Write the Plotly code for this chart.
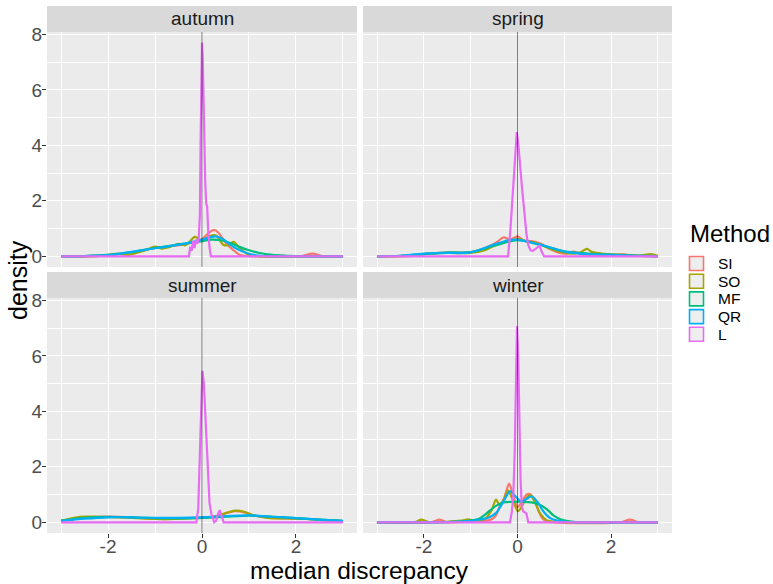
import plotly.graph_objects as go

# ---- data: kernel density curves of the median discrepancy, per season and method ----
SEASONS = ["autumn", "spring", "summer", "winter"]
METHODS = ["SI", "SO", "MF", "QR", "L"]
COLORS = ["#F8766D", "#A3A500", "#00BF7D", "#00B0F6", "#E76BF3"]

# autumn
AUT_SI_X = [-3, -2.4, -2.0, -1.6, -1.3, -1.0, -0.8, -0.6, -0.4, -0.2, 0.0, 0.15, 0.25, 0.35, 0.5, 0.65, 0.8, 1.0, 1.3, 2.1, 2.35, 2.6, 3]
AUT_SI_Y = [0, 0.01, 0.04, 0.12, 0.2, 0.3, 0.32, 0.38, 0.42, 0.5, 0.62, 0.85, 0.95, 0.85, 0.5, 0.25, 0.06, 0.01, 0, 0, 0.1, 0, 0]
AUT_SO_X = [-3, -2.3, -2.0, -1.8, -1.6, -1.4, -1.2, -1.0, -0.85, -0.7, -0.5, -0.35, -0.15, 0.0, 0.15, 0.3, 0.45, 0.55, 0.67, 0.8, 1.0, 1.2, 3]
AUT_SO_Y = [0, 0, 0.05, 0.1, 0.05, 0.12, 0.22, 0.35, 0.28, 0.33, 0.45, 0.4, 0.7, 0.55, 0.72, 0.75, 0.42, 0.4, 0.52, 0.3, 0.05, 0, 0]
AUT_MF_X = [-3, -2.5, -2.0, -1.5, -1.0, -0.5, -0.25, 0.0, 0.2, 0.4, 0.6, 0.8, 1.0, 1.2, 1.5, 1.8, 2.2, 3]
AUT_MF_Y = [0, 0.01, 0.05, 0.15, 0.3, 0.42, 0.48, 0.55, 0.6, 0.58, 0.48, 0.34, 0.22, 0.13, 0.05, 0.02, 0, 0]
AUT_QR_X = [-3, -2.5, -2.0, -1.5, -1.0, -0.75, -0.5, -0.25, 0.0, 0.15, 0.3, 0.45, 0.6, 0.75, 0.95, 1.2, 1.5, 3]
AUT_QR_Y = [0, 0.01, 0.04, 0.16, 0.29, 0.35, 0.42, 0.5, 0.6, 0.68, 0.72, 0.62, 0.42, 0.26, 0.12, 0.03, 0, 0]
AUT_L_X = [-3, -0.28, -0.25, -0.22, -0.19, -0.16, -0.13, -0.1, -0.07, -0.045, -0.03, -0.015, 0.0, 0.015, 0.03, 0.05, 0.07, 0.09, 0.11, 0.13, 0.16, 0.19, 3]
AUT_L_Y = [0, 0, 0.35, 0.2, 0.55, 0.3, 0.6, 0.45, 0.65, 1.5, 4.0, 6.8, 7.7, 7.2, 5.6, 4.0, 2.6, 1.9, 1.8, 1.0, 0.3, 0, 0]

# spring
SPR_SI_X = [-3, -2.2, -2.0, -1.5, -1.0, -0.7, -0.45, -0.3, -0.15, 0.0, 0.15, 0.3, 0.5, 0.7, 0.9, 1.05, 1.2, 1.35, 1.6, 2.0, 2.25, 2.5, 3]
SPR_SI_Y = [0, 0.02, 0.08, 0.13, 0.15, 0.3, 0.5, 0.68, 0.6, 0.72, 0.55, 0.55, 0.45, 0.25, 0.12, 0.1, 0.17, 0.08, 0.05, 0.04, 0.07, 0.02, 0]
SPR_SO_X = [-3, -2.2, -2.0, -1.5, -1.0, -0.7, -0.4, -0.2, 0.0, 0.2, 0.4, 0.6, 0.8, 1.0, 1.2, 1.35, 1.48, 1.6, 1.8, 2.2, 2.6, 2.85, 3.0]
SPR_SO_Y = [0, 0.02, 0.08, 0.12, 0.12, 0.22, 0.45, 0.55, 0.62, 0.55, 0.48, 0.35, 0.22, 0.13, 0.1, 0.15, 0.27, 0.15, 0.1, 0.06, 0.03, 0.08, 0.02]
SPR_MF_X = [-3, -2.5, -2.0, -1.5, -1.0, -0.5, 0.0, 0.5, 1.0, 1.5, 2.0, 2.5, 3]
SPR_MF_Y = [0, 0.02, 0.08, 0.14, 0.15, 0.38, 0.58, 0.4, 0.18, 0.1, 0.06, 0.03, 0.01]
SPR_QR_X = [-3, -2.5, -2.0, -1.5, -1.0, -0.5, -0.2, 0.0, 0.3, 0.6, 1.0, 1.5, 2.0, 2.5, 3]
SPR_QR_Y = [0, 0.02, 0.1, 0.12, 0.14, 0.42, 0.58, 0.6, 0.5, 0.37, 0.17, 0.08, 0.05, 0.02, 0]
SPR_L_X = [-3, -0.2, -0.15, -0.1, -0.05, -0.015, 0.02, 0.06, 0.1, 0.15, 0.19, 0.23, 0.28, 0.33, 0.4, 0.47, 0.52, 0.57, 3]
SPR_L_Y = [0, 0, 1.0, 2.3, 3.5, 4.48, 4.0, 3.1, 2.4, 1.55, 0.82, 0.4, 0.22, 0.2, 0.3, 0.38, 0.15, 0, 0]

# summer
SUM_SI_X = [-3, -2.6, -2.2, -1.8, -1.4, -1.0, -0.6, -0.3, 0.0, 0.3, 0.5, 0.7, 0.9, 1.1, 1.4, 1.8, 2.2, 2.6, 3]
SUM_SI_Y = [0.05, 0.15, 0.2, 0.2, 0.17, 0.12, 0.12, 0.15, 0.17, 0.22, 0.32, 0.4, 0.36, 0.25, 0.17, 0.14, 0.12, 0.08, 0.04]
SUM_SO_X = [-3, -2.6, -2.2, -1.8, -1.4, -1.0, -0.6, -0.3, 0.0, 0.3, 0.5, 0.7, 0.9, 1.1, 1.4, 1.8, 2.2, 2.6, 3]
SUM_SO_Y = [0.05, 0.2, 0.2, 0.18, 0.15, 0.12, 0.12, 0.15, 0.16, 0.22, 0.33, 0.42, 0.38, 0.25, 0.16, 0.14, 0.12, 0.08, 0.04]
SUM_MF_X = [-3, -2.5, -2.0, -1.5, -1.0, -0.5, 0.0, 0.5, 1.0, 1.5, 2.0, 2.5, 3]
SUM_MF_Y = [0.06, 0.16, 0.2, 0.18, 0.15, 0.14, 0.16, 0.2, 0.24, 0.2, 0.15, 0.1, 0.05]
SUM_QR_X = [-3, -2.5, -2.0, -1.5, -1.0, -0.5, 0.0, 0.5, 1.0, 1.5, 2.0, 2.5, 3]
SUM_QR_Y = [0.05, 0.13, 0.18, 0.18, 0.16, 0.16, 0.18, 0.22, 0.25, 0.2, 0.15, 0.1, 0.05]
SUM_L_X = [-3, -0.12, -0.08, -0.05, -0.02, 0.008, 0.04, 0.08, 0.12, 0.16, 0.2, 0.26, 0.3, 0.34, 0.38, 0.42, 0.46, 3]
SUM_L_Y = [0, 0, 0.5, 2.2, 4.5, 5.46, 5.0, 3.6, 1.8, 0.7, 0.3, 0, 0.05, 0.3, 0.44, 0.2, 0, 0]

# winter
WIN_SI_X = [-3, -1.85, -1.66, -1.5, -1.2, -0.9, -0.6, -0.48, -0.38, -0.28, -0.18, -0.1, 0.0, 0.1, 0.18, 0.26, 0.35, 0.43, 0.51, 0.6, 0.8, 2.2, 2.4, 2.6, 3]
WIN_SI_Y = [0, 0, 0.1, 0, 0.02, 0.03, 0.08, 0.2, 0.56, 0.9, 1.4, 1.0, 0.55, 0.75, 0.98, 1.02, 0.85, 0.5, 0.2, 0.05, 0, 0, 0.1, 0, 0]
WIN_SO_X = [-3, -2.2, -2.05, -1.9, -1.5, -1.2, -1.05, -0.9, -0.7, -0.55, -0.46, -0.38, -0.28, -0.2, -0.1, 0.01, 0.1, 0.19, 0.27, 0.38, 0.48, 0.62, 0.8, 1.0, 3]
WIN_SO_Y = [0, 0, 0.1, 0.01, 0.02, 0.06, 0.11, 0.06, 0.12, 0.45, 0.82, 0.62, 0.85, 1.15, 0.8, 0.4, 0.6, 0.88, 0.98, 0.7, 0.32, 0.08, 0.02, 0, 0]
WIN_MF_X = [-3, -1.5, -1.2, -1.0, -0.8, -0.66, -0.55, -0.45, -0.3, -0.1, 0.1, 0.3, 0.45, 0.55, 0.66, 0.76, 0.87, 0.97, 1.2, 3]
WIN_MF_Y = [0, 0.01, 0.03, 0.06, 0.15, 0.32, 0.48, 0.6, 0.72, 0.74, 0.74, 0.72, 0.65, 0.56, 0.42, 0.26, 0.15, 0.08, 0.02, 0]
WIN_QR_X = [-3, -1.5, -1.2, -1.0, -0.8, -0.6, -0.45, -0.3, -0.16, -0.05, 0.08, 0.2, 0.3, 0.42, 0.55, 0.7, 0.85, 1.0, 1.2, 3]
WIN_QR_Y = [0, 0.01, 0.03, 0.05, 0.1, 0.18, 0.35, 0.75, 1.12, 0.95, 0.75, 0.85, 0.94, 0.75, 0.4, 0.15, 0.06, 0.02, 0, 0]
WIN_L_X = [-3, -0.16, -0.12, -0.09, -0.06, -0.035, -0.01, 0.015, 0.04, 0.065, 0.09, 0.12, 0.19, 0.23, 3]
WIN_L_Y = [0, 0, 0.4, 0.95, 2.5, 5.0, 7.07, 6.0, 3.6, 1.6, 0.6, 0.4, 0.32, 0, 0]

CURVES = {
    "autumn": [(AUT_SI_X, AUT_SI_Y), (AUT_SO_X, AUT_SO_Y), (AUT_MF_X, AUT_MF_Y), (AUT_QR_X, AUT_QR_Y), (AUT_L_X, AUT_L_Y)],
    "spring": [(SPR_SI_X, SPR_SI_Y), (SPR_SO_X, SPR_SO_Y), (SPR_MF_X, SPR_MF_Y), (SPR_QR_X, SPR_QR_Y), (SPR_L_X, SPR_L_Y)],
    "summer": [(SUM_SI_X, SUM_SI_Y), (SUM_SO_X, SUM_SO_Y), (SUM_MF_X, SUM_MF_Y), (SUM_QR_X, SUM_QR_Y), (SUM_L_X, SUM_L_Y)],
    "winter": [(WIN_SI_X, WIN_SI_Y), (WIN_SO_X, WIN_SO_Y), (WIN_MF_X, WIN_MF_Y), (WIN_QR_X, WIN_QR_Y), (WIN_L_X, WIN_L_Y)],
}

X_MAJOR = [-2, 0, 2]
X_MINOR = [-3, -1, 1, 3]
Y_MAJOR = [0, 2, 4, 6, 8]
Y_MINOR = [1, 3, 5, 7]

W, H = 773, 584
FONT = "Liberation Sans, Arial, sans-serif"


def px(x):
    return x / W


def py(y):
    return 1 - y / H


# panel geometry in pixels: (left, right, top, bottom)
PANELS = {
    "autumn": (47, 357, 32, 267),
    "spring": (363, 672, 32, 267),
    "summer": (47, 357, 298, 533),
    "winter": (363, 672, 298, 533),
}
STRIP_H = 26

fig = go.Figure()
layout = dict(
    template="none",
    width=W, height=H,
    margin=dict(l=0, r=0, t=0, b=0, pad=0),
    paper_bgcolor="white", plot_bgcolor="#EBEBEB",
    showlegend=False,
    font=dict(family=FONT, color="#4D4D4D"),
)
shapes = []
annotations = []

for i, season in enumerate(SEASONS):
    n = i + 1
    xa = "x" if n == 1 else f"x{n}"
    ya = "y" if n == 1 else f"y{n}"
    left, right, top, bottom = PANELS[season]
    bottom_row = season in ("summer", "winter")
    left_col = season in ("autumn", "summer")

    for m, (cx, cy) in enumerate(CURVES[season]):
        is_l = METHODS[m] == "L"
        line = dict(color=COLORS[m], width=2.2, shape="linear" if is_l else "spline")
        if not is_l:
            line["smoothing"] = 0.8
        fig.add_trace(go.Scatter(
            x=cx, y=cy, mode="lines", name=METHODS[m], line=line,
            xaxis=xa, yaxis=ya, hoverinfo="skip",
        ))

    layout[f"xaxis{'' if n == 1 else n}"] = dict(
        domain=[px(left), px(right)], anchor=ya, range=[-3.3, 3.3], automargin=False,
        tickvals=X_MAJOR, ticktext=[str(v) for v in X_MAJOR],
        showticklabels=bottom_row, ticks="outside" if bottom_row else "",
        ticklen=4, tickwidth=1, tickcolor="#333333", ticklabelstandoff=-8,
        tickfont=dict(size=19, color="#4D4D4D", family=FONT),
        showgrid=True, gridcolor="white", gridwidth=1.3,
        minor=dict(tickvals=X_MINOR, showgrid=True, gridcolor="white", gridwidth=0.6, ticks=""),
        zeroline=False, showline=False, fixedrange=True,
    )
    layout[f"yaxis{'' if n == 1 else n}"] = dict(
        domain=[py(bottom), py(top)], anchor=xa, range=[-0.385, 8.085], automargin=False,
        tickvals=Y_MAJOR, ticktext=[str(v) for v in Y_MAJOR],
        showticklabels=left_col, ticks="outside" if left_col else "",
        ticklen=4, tickwidth=1, tickcolor="#333333", ticklabelstandoff=-4,
        tickfont=dict(size=19, color="#4D4D4D", family=FONT),
        showgrid=True, gridcolor="white", gridwidth=1.3,
        minor=dict(tickvals=Y_MINOR, showgrid=True, gridcolor="white", gridwidth=0.6, ticks=""),
        zeroline=False, showline=False, fixedrange=True,
    )

    # reference line at zero discrepancy
    shapes.append(dict(type="line", xref=xa, yref=f"{ya} domain", x0=0, x1=0, y0=0, y1=1,
                       line=dict(color="rgba(0,0,0,0.5)", width=1), layer="above"))

    # facet strip
    shapes.append(dict(type="rect", xref="paper", yref="paper",
                       x0=px(left), x1=px(right), y0=py(top), y1=py(top - STRIP_H),
                       fillcolor="#D9D9D9", line=dict(width=0), layer="below"))
    annotations.append(dict(text=season, xref="paper", yref="paper",
                            x=px((left + right) / 2), y=py(top - STRIP_H / 2),
                            xanchor="center", yanchor="middle", showarrow=False,
                            font=dict(size=19, color="#1A1A1A", family=FONT)))

# axis titles
annotations.append(dict(text="median discrepancy", xref="paper", yref="paper",
                        x=px((47 + 672) / 2), y=py(570), xanchor="center", yanchor="middle",
                        showarrow=False, font=dict(size=24.5, color="black", family=FONT)))
annotations.append(dict(text="density", xref="paper", yref="paper",
                        x=px(18), y=py(280), xanchor="center", yanchor="middle",
                        textangle=-90, showarrow=False, font=dict(size=25, color="black", family=FONT)))

# legend
annotations.append(dict(text="Method", xref="paper", yref="paper",
                        x=px(688), y=py(233), xanchor="left", yanchor="middle",
                        showarrow=False, font=dict(size=24, color="black", family=FONT)))
KEY_TOP = 255
KEY_STEP = 17.7
for m, name in enumerate(METHODS):
    y0 = KEY_TOP + m * KEY_STEP
    shapes.append(dict(type="rect", xref="paper", yref="paper",
                       x0=px(689.5), x1=px(703.5), y0=py(y0 + 1.5), y1=py(y0 + 15.5),
                       fillcolor="#EEEEEE", line=dict(color=COLORS[m], width=1.6)))
    annotations.append(dict(text=name, xref="paper", yref="paper",
                            x=px(716), y=py(y0 + 8.5), xanchor="left", yanchor="middle",
                            showarrow=False, font=dict(size=15.5, color="black", family=FONT)))

layout["shapes"] = shapes
layout["annotations"] = annotations
fig.update_layout(**layout)
fig.write_html("out.html")
